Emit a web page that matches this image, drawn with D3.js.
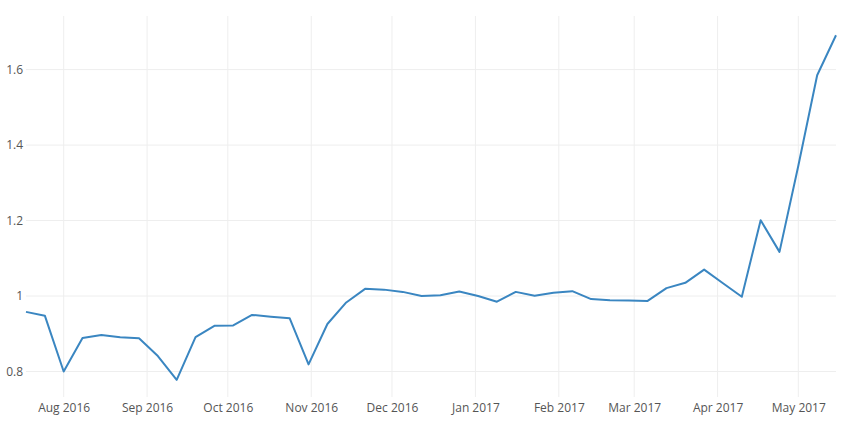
<!DOCTYPE html>
<html><head><meta charset="utf-8">
<script src="https://cdn.jsdelivr.net/npm/d3@7"></script>
<style>body{margin:0;background:#fff;}svg{display:block;font-family:"Open Sans",sans-serif;}</style>
</head><body>
<svg id="c" width="848" height="426"></svg>
<script>
const startDate = "2016-07-18";
const values = [0.958,0.948,0.800,0.889,0.897,0.891,0.888,0.841,0.778,0.891,
0.921,0.922,0.950,0.945,0.941,0.819,0.926,0.983,1.019,1.017,
1.011,1.000,1.002,1.012,1.000,0.985,1.011,1.001,1.009,1.013,
0.992,0.989,0.988,0.987,1.021,1.035,1.070,1.034,0.998,1.201,
1.117,1.345,1.585,1.691];
const yTicks = [0.8,1,1.2,1.4,1.6];
const xTickLabels = ["Aug 2016","Sep 2016","Oct 2016","Nov 2016","Dec 2016","Jan 2017","Feb 2017","Mar 2017","Apr 2017","May 2017"];

const parse = d3.utcParse("%Y-%m-%d");
const t0 = parse(startDate);
const data = values.map((v,i)=>({date:d3.utcDay.offset(t0,i*7), value:v}));
const xTickDates = xTickLabels.map(s=>d3.utcParse("%b %Y")(s));

const L=26,R=836,T=16,B=397;
const svg=d3.select("#c");
const x=d3.scaleUtc().domain([data[0].date,data[data.length-1].date]).range([L,R]);
const y=d3.scaleLinear().domain([0.7325,1.742]).range([B,T]);

// grid
svg.append("g").selectAll("line").data(xTickDates).join("line")
 .attr("x1",d=>x(d)).attr("x2",d=>x(d)).attr("y1",T).attr("y2",B)
 .attr("stroke","#eeeeee").attr("stroke-width",1);
svg.append("g").selectAll("line").data(yTicks).join("line")
 .attr("x1",L).attr("x2",R).attr("y1",d=>y(d)).attr("y2",d=>y(d))
 .attr("stroke","#eeeeee").attr("stroke-width",1);

// axes
const xAxis=d3.axisBottom(x).tickValues(xTickDates).tickFormat((d,i)=>xTickLabels[i]).tickSize(0).tickPadding(6);
const gx=svg.append("g").attr("transform",`translate(0,${B})`).call(xAxis);
gx.select(".domain").remove();
gx.selectAll("text").attr("fill","#555").style("font-size","12px").style("font-family","'Open Sans',sans-serif");

const yAxis=d3.axisLeft(y).tickValues(yTicks).tickFormat(d3.format("~g")).tickSize(0).tickPadding(3);
const gy=svg.append("g").attr("transform",`translate(${L},0)`).call(yAxis);
gy.select(".domain").remove();
gy.selectAll("text").attr("fill","#555").style("font-size","12px").style("font-family","'Open Sans',sans-serif");

// line
svg.append("path").datum(data)
 .attr("fill","none").attr("stroke","#3a86c1").attr("stroke-width",2)
 .attr("stroke-linejoin","round")
 .attr("d",d3.line().x(d=>x(d.date)).y(d=>y(d.value)));
</script>
</body></html>
